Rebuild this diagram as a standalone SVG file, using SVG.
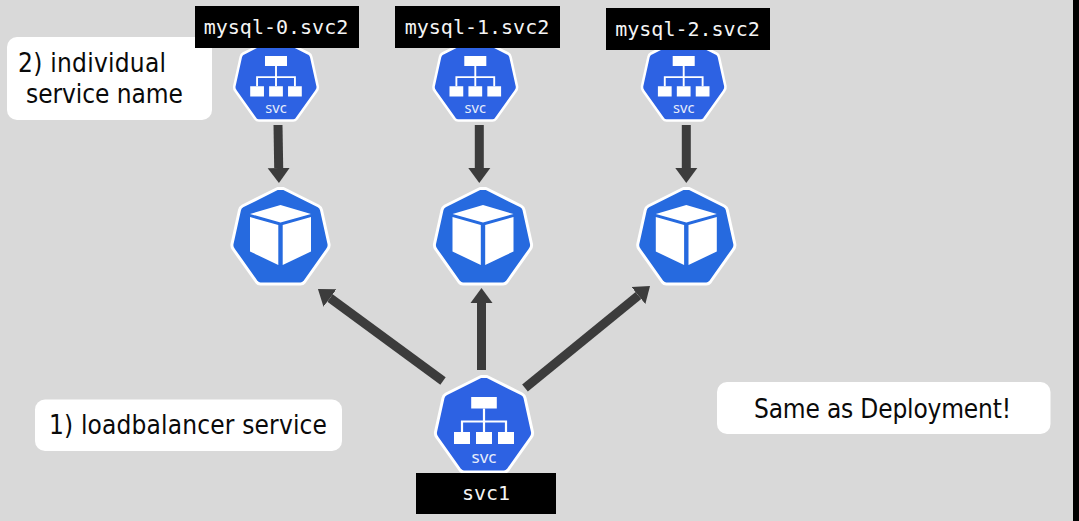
<svg xmlns="http://www.w3.org/2000/svg" width="1079" height="521" viewBox="0 0 1079 521">
<style>
.sans{font-family:"DejaVu Sans","Liberation Sans",sans-serif;font-stretch:condensed;font-size:26px;fill:#0a0a0a}
.mono{font-family:"DejaVu Sans Mono",monospace;font-size:20px;fill:#f4f4f4;text-anchor:middle}
.hep{stroke:#fff;stroke-width:3;stroke-linejoin:round}
.conn{stroke:#3c3c3c;stroke-width:9;fill:none;marker-end:url(#head)}
.ln{stroke:#fff;stroke-width:2.2;fill:none}
.lbl{fill:#000}
.note{fill:#fff}
.svct{font-family:"Noto Sans","Liberation Sans",sans-serif;font-size:17px;fill:#e6ecfb;text-anchor:middle}
</style>
<defs>
<marker id="head" markerUnits="userSpaceOnUse" markerWidth="16" markerHeight="24" refX="0" refY="12" orient="auto"><path d="M0,1 L15,12 L0,23 Z" fill="#3c3c3c"/></marker>
<path id="hept" d="M-3,-49.5L3,-49.5L38,-32Q40.5,-30.5 41,-28L48.5,6Q49,9 47,11.5L24,44Q22.5,46 20,46H-20Q-22.5,46 -24,44L-47,11.5Q-49,9 -48.5,6L-41,-28Q-40.5,-30.5 -38,-32L-3,-49.5Z"/>
<g id="svcicon">
<use href="#hept" class="hep" fill="#2d62e3"/>
<path fill="#fff" d="M-12.800,-29H12.800V-17.500H-12.800ZM-30,6H-14V18H-30ZM-8,6H8V18H-8ZM14,6H30V18H14Z"/>
<path class="ln" d="M0,-17.500V6M-22,6V-4.500H22V6"/>
<text class="svct" x="0" y="37">svc</text>
</g>
<g id="podicon">
<use href="#hept" class="hep" fill="#266adf"/>
<path fill="#fff" d="M-30.500,-24L0,-33L30.500,-24L0,-15.500ZM-30.500,-21L-2.200,-13V27L-30.500,13.500ZM30.500,-21L2.200,-13V27L30.500,13.500Z"/>
</g>
</defs>
<rect width="1079" height="521" fill="#d9d9d9"/>
<rect x="1073" width="6" height="521" fill="#000"/>
<g id="note-2"><rect class="note" x="7" y="37" width="205" height="83" rx="10"/><text class="sans" x="18" y="72" textLength="148">2) individual</text><text class="sans" x="26" y="103" textLength="157">service name</text></g>
<g id="note-1"><rect class="note" x="35" y="399.500" width="307" height="51.500" rx="10"/><text class="sans" x="49" y="434" textLength="278">1) loadbalancer service</text></g>
<g id="note-3"><rect class="note" x="717" y="382" width="333.500" height="52" rx="10"/><text class="sans" x="754" y="418" textLength="257">Same as Deployment!</text></g>
<g id="connectors">
<line class="conn" x1="278" y1="125" x2="278.700" y2="168"/>
<line class="conn" x1="479.300" y1="125" x2="479.300" y2="168"/>
<line class="conn" x1="686.300" y1="125" x2="686.300" y2="168"/>
<line class="conn" x1="443" y1="381" x2="330" y2="298"/>
<line class="conn" x1="481.500" y1="370" x2="481.500" y2="303"/>
<line class="conn" x1="525" y1="388" x2="638.400" y2="295.500"/>
</g>
<g id="svc-0"><use href="#svcicon" transform="translate(276,81) scale(.86)"/></g>
<g id="svc-1"><use href="#svcicon" transform="translate(475.300,81) scale(.86)"/></g>
<g id="svc-2"><use href="#svcicon" transform="translate(683.700,81) scale(.86)"/></g>
<g id="pod-0"><use href="#podicon" transform="translate(280.500,238)"/></g>
<g id="pod-1"><use href="#podicon" transform="translate(483,238)"/></g>
<g id="pod-2"><use href="#podicon" transform="translate(686.300,238)"/></g>
<g id="svc-lb"><use href="#svcicon" transform="translate(484,426)"/></g>
<g id="label-0"><rect class="lbl" x="195" y="6" width="164" height="42"/><text class="mono" x="276" y="34">mysql-0.svc2</text></g>
<g id="label-1"><rect class="lbl" x="395" y="6" width="165" height="42"/><text class="mono" x="477" y="34">mysql-1.svc2</text></g>
<g id="label-2"><rect class="lbl" x="606" y="8" width="164" height="42"/><text class="mono" x="687.500" y="36">mysql-2.svc2</text></g>
<g id="label-lb"><rect class="lbl" x="416" y="473" width="140" height="41"/><text class="mono" x="486" y="500">svc1</text></g>
</svg>
